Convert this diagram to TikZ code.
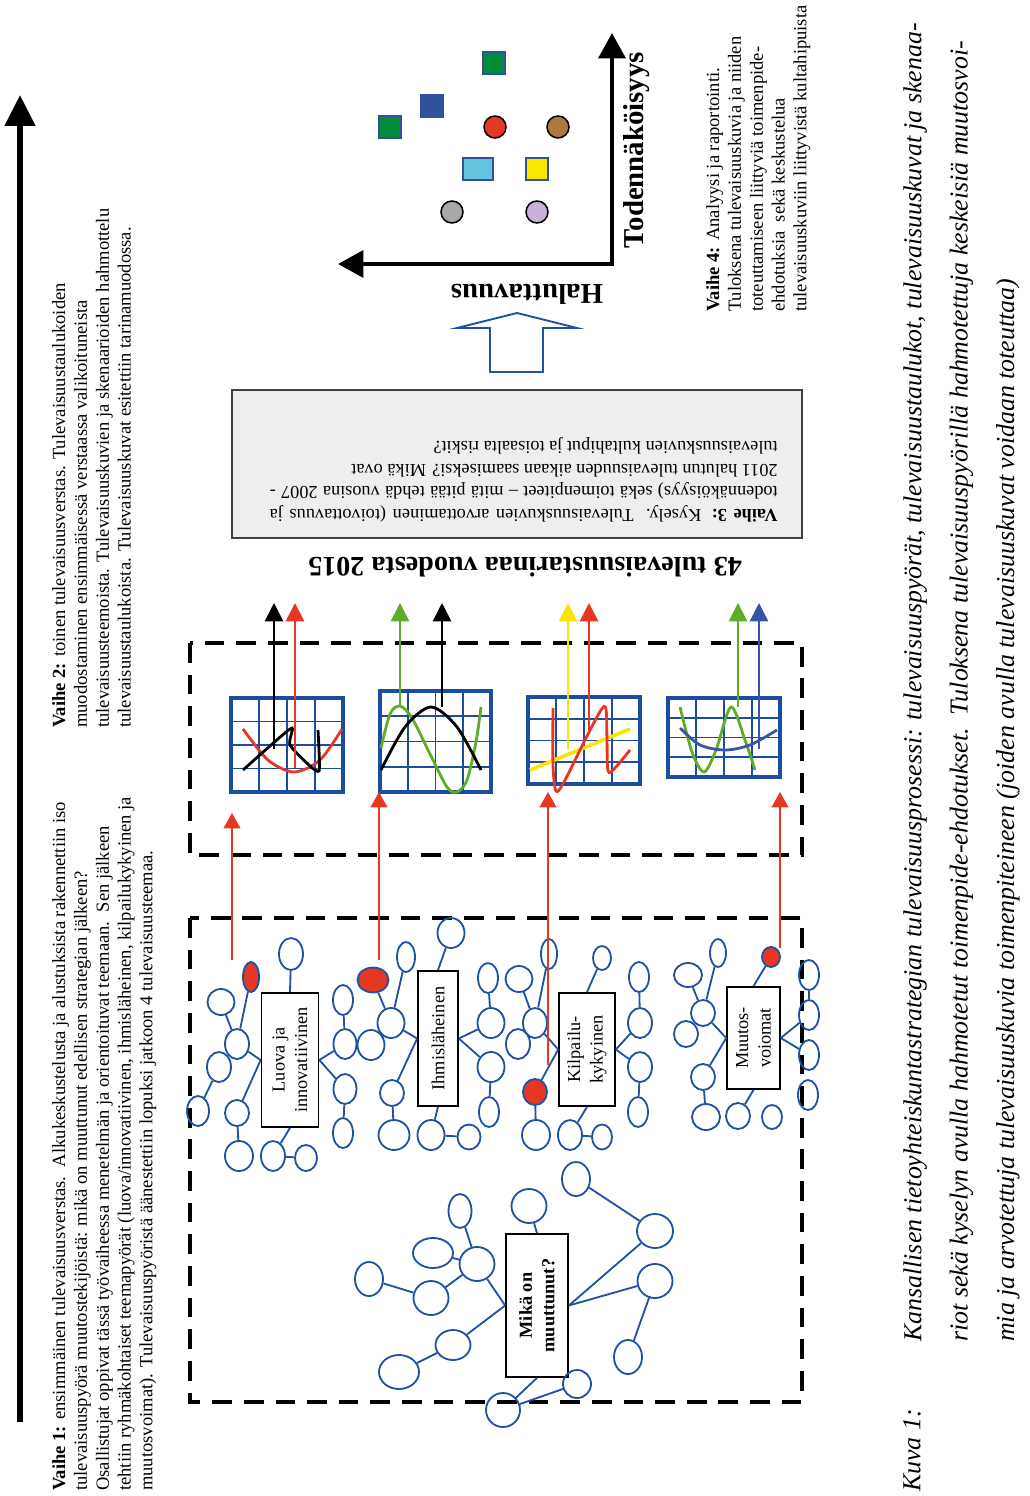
\documentclass[tikz,border=0pt]{standalone}
\usepackage{fontspec}
\setmainfont{Liberation Serif}
\usetikzlibrary{shapes.geometric, arrows.meta}
\definecolor{wheelblue}{RGB}{31, 82, 163}
\definecolor{chartblue}{RGB}{26, 76, 160}
\definecolor{hotred}{RGB}{230, 55, 35}
\definecolor{trendgreen}{RGB}{95, 172, 40}
\definecolor{trendyellow}{RGB}{248, 230, 0}
\definecolor{trendblue}{RGB}{55, 85, 165}
\definecolor{markgreen}{RGB}{0, 140, 60}
\definecolor{markblue}{RGB}{50, 80, 160}
\definecolor{markcyan}{RGB}{100, 195, 220}
\definecolor{markbrown}{RGB}{170, 122, 66}
\definecolor{markgrey}{RGB}{168, 168, 168}
\definecolor{marklilac}{RGB}{200, 176, 214}
\definecolor{surveygrey}{RGB}{238, 238, 238}
\begin{document}
\begin{tikzpicture}[
        x=0.025cm, y=-0.025cm,
        wheel/.style 2 args={ellipse, draw=wheelblue, line width=1.3pt, inner sep=0pt, minimum width=#1*0.025cm, minimum height=#2*0.025cm},
        hotwheel/.style 2 args={wheel={#1}{#2}, fill=hotred},
        spoke/.style={draw=wheelblue, line width=1.3pt},
        theme/.style={rectangle, draw=black, line width=1.2pt, fill=white, rotate=90, align=center, inner sep=1pt, font=\fontsize{13}{16}\selectfont},
        phase/.style={draw=black, line width=3.5pt, dash pattern=on 14pt off 8.5pt},
        chart/.style={rectangle, draw=chartblue, line width=3pt, inner sep=0pt},
        chartgrid/.style={draw=chartblue, line width=1.2pt},
        trend/.style={line width=2pt},
        flow/.style={-{Triangle[width=13pt, length=13pt]}, line width=1.2pt},
        feed/.style={-{Triangle[width=12pt, length=11pt]}, line width=0.9pt, color=hotred},
        stagetext/.style={rotate=90, anchor=north west, align=left, inner sep=0pt, font=\fontsize{13.2}{15.5}\selectfont},
        caption/.style={rotate=90, anchor=north west, align=left, inner sep=0pt, font=\itshape\fontsize{18.4}{33}\selectfont},
        surveybox/.style={rectangle, draw=black!75, line width=1pt, fill=surveygrey, minimum width=570*0.025cm, minimum height=148*0.025cm},
        marksq/.style={rectangle, draw=markblue, line width=1.2pt, minimum size=22*0.025cm, inner sep=0pt},
        markdot/.style={circle, draw=black, line width=1.1pt, minimum size=22*0.025cm, inner sep=0pt},
        axislabel/.style={font=\bfseries\fontsize{20.5}{22}\selectfont, inner sep=0pt}
    ]
    \useasboundingbox (0,0) rectangle (1030,1496);

    % Time line on the left
    \coordinate (timebase) at (20,1422);
    \coordinate (timetop) at (20,95);
    \draw[-{Triangle[width=21pt, length=22pt]}, line width=4.3pt] (timebase) -- (timetop);

    % Stage texts
    \node[stagetext] (stage1) at (52,1491) {\textbf{Vaihe 1:} ensimmäinen tulevaisuusverstas.\ \ Alkukeskustelusta ja alustuksista rakennettiin iso\\ tulevaisuuspyörä muutostekijöistä: mikä on muuttunut edellisen strategian jälkeen?\\ Osallistujat oppivat tässä työvaiheessa menetelmän ja orientoituvat teemaan.\ \ Sen jälkeen\\ tehtiin ryhmäkohtaiset teemapyörät (luova/innovatiivinen, ihmisläheinen, kilpailukykyinen ja\\ muutosvoimat). Tulevaisuuspyöristä äänestettiin lopuksi jatkoon 4 tulevaisuusteemaa.};
    \node[stagetext] (stage2) at (52,728) {\textbf{Vaihe 2:} toinen tulevaisuusverstas. Tulevaisuustaulukoiden\\ muodostaminen ensimmäisessä verstaassa valikoituneista\\ tulevaisuusteemoista. Tulevaisuuskuvien ja skenaarioiden hahmottelu\\ tulevaisuustaulukoista. Tulevaisuuskuvat esitettiin tarinamuodossa.};
    \node[stagetext] (stage4) at (706,312) {\textbf{Vaihe 4:} Analyysi ja raportointi.\\ Tuloksena tulevaisuuskuvia ja niiden\\ toteuttamiseen liittyviä toimenpide-\\ ehdotuksia\ \ sekä keskustelua\\ tulevaisuuskuviin liittyvistä kultahipuista};

    % Phase frames
    \draw[phase] (190,918) rectangle (802,1402);
    \draw[phase] (190,643) rectangle (802,855);

    % Theme boxes
    \node[theme, minimum width=134*0.025cm, minimum height=57*0.025cm] (luova) at (290,1060) {Luova ja\\ innovatiivinen};
    \node[theme, minimum width=135*0.025cm, minimum height=40*0.025cm] (ihmis) at (438,1038.5) {Ihmisläheinen};
    \node[theme, minimum width=113*0.025cm, minimum height=56*0.025cm] (kilpailu) at (587,1049.5) {Kilpailu-\\ kykyinen};
    \node[theme, minimum width=102*0.025cm, minimum height=53*0.025cm] (muutos) at (753.5,1038) {Muutos-\\ voiomat};
    \node[theme, minimum width=143*0.025cm, minimum height=62*0.025cm, font=\bfseries\fontsize{13}{16}\selectfont] (muuttunut) at (537,1305.5) {Mikä on\\ muuttunut?};

    % Wheel: luova
    \node[wheel={24}{32}] (lu1) at (291,954) {};
    \node[hotwheel={16}{30}] (lured) at (251,977) {};
    \node[wheel={27}{26}] (lu2) at (221,1002) {};
    \node[wheel={24}{30}] (lu3) at (237,1044) {};
    \node[wheel={24}{30}] (lu4) at (219,1067) {};
    \node[wheel={22}{30}] (lu5) at (198,1111) {};
    \node[wheel={24}{26}] (lu6) at (237,1113) {};
    \node[wheel={28}{30}] (lu7) at (239,1156) {};
    \node[wheel={24}{30}] (lu8) at (273,1156) {};
    \node[wheel={22}{26}] (lu9) at (306,1158) {};
    \node[wheel={20}{30}] (lu10) at (343,1000) {};
    \node[wheel={23}{30}] (lu11) at (345,1044) {};
    \node[wheel={23}{30}] (lu12) at (345,1089) {};
    \node[wheel={20}{30}] (lu13) at (343,1133) {};
    \draw[spoke] (lu1) -- (luova.east);
    \draw[spoke] (lu3) -- (lured);
    \draw[spoke] (lu3) -- (lu2);
    \draw[spoke] (lu3) -- (luova.north);
    \draw[spoke] (lu4) -- (lu5);
    \draw[spoke] (lu6) -- (luova.north);
    \draw[spoke] (lu6) -- (lu7);
    \draw[spoke] (lu8) -- (luova.west);
    \draw[spoke] (lu8) -- (lu9);
    \draw[spoke] (lu10) -- (lu11);
    \draw[spoke] (lu11) -- (luova.south);
    \draw[spoke] (lu12) -- (luova.south);
    \draw[spoke] (lu12) -- (lu13);

    % Wheel: ihmisläheinen
    \node[hotwheel={31}{25}] (ihred) at (373,980) {};
    \node[wheel={27}{30}] (ih1) at (391,1023) {};
    \node[wheel={27}{30}] (ih2) at (371,1045) {};
    \node[wheel={18}{30}] (ih3) at (406,957) {};
    \node[wheel={27}{30}] (ih4) at (451,933) {};
    \node[wheel={24}{26}] (ih5) at (392,1093) {};
    \node[wheel={31}{30}] (ih6) at (394,1135) {};
    \node[wheel={27}{30}] (ih7) at (431,1135) {};
    \node[wheel={23}{25}] (ih8) at (469,1137) {};
    \node[wheel={20}{30}] (ih9) at (488,978) {};
    \node[wheel={27}{30}] (ih10) at (491,1023) {};
    \node[wheel={27}{30}] (ih11) at (491,1067) {};
    \node[wheel={20}{30}] (ih12) at (489,1112) {};
    \draw[spoke] (ihred) -- (ih1);
    \draw[spoke] (ih1) -- (ihmis.north);
    \draw[spoke] (ih3) -- (ih1);
    \draw[spoke] (ih4) -- (ihmis.east);
    \draw[spoke] (ih5) -- (ihmis.north);
    \draw[spoke] (ih5) -- (ih6);
    \draw[spoke] (ih7) -- (ihmis.west);
    \draw[spoke] (ih7) -- (ih8);
    \draw[spoke] (ih9) -- (ih10);
    \draw[spoke] (ih10) -- (ihmis.south);
    \draw[spoke] (ih11) -- (ihmis.south);
    \draw[spoke] (ih11) -- (ih12);

    % Wheel: kilpailukykyinen
    \node[wheel={16}{30}] (ki1) at (549,954) {};
    \node[wheel={27}{26}] (ki2) at (519,979) {};
    \node[wheel={24}{30}] (ki3) at (535,1023) {};
    \node[wheel={24}{30}] (ki4) at (518,1044) {};
    \node[hotwheel={24}{26}] (kired) at (535,1092) {};
    \node[wheel={28}{30}] (ki5) at (536,1135) {};
    \node[wheel={24}{30}] (ki6) at (570,1135) {};
    \node[wheel={20}{25}] (ki7) at (602,1137) {};
    \node[wheel={18}{24}] (ki8) at (602,958) {};
    \node[wheel={20}{30}] (ki9) at (639,977) {};
    \node[wheel={24}{30}] (ki10) at (640,1023) {};
    \node[wheel={24}{30}] (ki11) at (640,1067) {};
    \node[wheel={20}{30}] (ki12) at (638,1112) {};
    \draw[spoke] (ki3) -- (kilpailu.north);
    \draw[spoke] (ki3) -- (ki1);
    \draw[spoke] (ki3) -- (ki2);
    \draw[spoke] (kired) -- (kilpailu.north);
    \draw[spoke] (kired) -- (ki5);
    \draw[spoke] (ki6) -- (kilpailu.west);
    \draw[spoke] (ki6) -- (ki7);
    \draw[spoke] (ki8) -- (kilpailu.east);
    \draw[spoke] (ki9) -- (ki10);
    \draw[spoke] (ki10) -- (kilpailu.south);
    \draw[spoke] (ki11) -- (kilpailu.south);
    \draw[spoke] (ki11) -- (ki12);

    % Wheel: muutosvoimat
    \node[hotwheel={18}{20}] (mured) at (771,957) {};
    \node[wheel={16}{28}] (mu1) at (718,953) {};
    \node[wheel={28}{24}] (mu2) at (688,975) {};
    \node[wheel={24}{26}] (mu3) at (703,1013) {};
    \node[wheel={24}{26}] (mu4) at (686,1034) {};
    \node[wheel={24}{26}] (mu5) at (703,1077) {};
    \node[wheel={28}{26}] (mu6) at (706,1117) {};
    \node[wheel={24}{26}] (mu7) at (738,1116) {};
    \node[wheel={20}{24}] (mu8) at (772,1117) {};
    \node[wheel={20}{30}] (mu9) at (809,975) {};
    \node[wheel={20}{30}] (mu10) at (809,1015) {};
    \node[wheel={20}{30}] (mu11) at (809,1055) {};
    \node[wheel={20}{30}] (mu12) at (808,1095) {};
    \draw[spoke] (mured) -- (muutos.east);
    \draw[spoke] (mu3) -- (mu1);
    \draw[spoke] (mu3) -- (mu2);
    \draw[spoke] (mu3) -- (muutos.north);
    \draw[spoke] (mu5) -- (muutos.north);
    \draw[spoke] (mu5) -- (mu6);
    \draw[spoke] (mu7) -- (muutos.west);
    \draw[spoke] (mu9) -- (mu10);
    \draw[spoke] (mu10) -- (muutos.south);
    \draw[spoke] (mu11) -- (muutos.south);

    % Wheel: mikä on muuttunut?
    \node[wheel={23}{34}] (mi1) at (460,1211) {};
    \node[wheel={35}{34}] (mi2) at (529,1206) {};
    \node[wheel={28}{34}] (mi3) at (576,1179) {};
    \node[wheel={36}{34}] (mi4) at (655,1231) {};
    \node[wheel={35}{34}] (mi5) at (655,1281) {};
    \node[wheel={28}{34}] (mi6) at (628,1357) {};
    \node[wheel={35}{34}] (mi7) at (477,1264) {};
    \node[wheel={40}{30}] (mi8) at (433,1253) {};
    \node[wheel={35}{34}] (mi9) at (431,1298) {};
    \node[wheel={28}{34}] (mi10) at (369,1279) {};
    \node[wheel={35}{30}] (mi11) at (453,1345) {};
    \node[wheel={40}{34}] (mi12) at (399,1372) {};
    \node[wheel={28}{28}] (mi13) at (577,1384) {};
    \node[wheel={34}{34}] (mi14) at (503,1410) {};
    \draw[spoke] (mi2) -- (muuttunut.east);
    \draw[spoke] (mi3) -- (mi4);
    \draw[spoke] (mi4) -- (muuttunut.south);
    \draw[spoke] (mi5) -- (muuttunut.south);
    \draw[spoke] (mi6) -- (mi5);
    \draw[spoke] (mi7) -- (mi1);
    \draw[spoke] (mi7) -- (muuttunut.north);
    \draw[spoke] (mi8) -- (mi7);
    \draw[spoke] (mi9) -- (mi7);
    \draw[spoke] (mi10) -- (mi9);
    \draw[spoke] (mi11) -- (muuttunut.north);
    \draw[spoke] (mi12) -- (mi11);
    \draw[spoke] (mi14) -- (muuttunut.west);
    \draw[spoke] (mi13) -- (mi14);

    % Future tables
    \node[chart, minimum width=112*0.025cm, minimum height=94*0.025cm] (chart1) at (287,745) {};
    \node[chart, minimum width=111*0.025cm, minimum height=101*0.025cm] (chart2) at (435.5,741.5) {};
    \node[chart, minimum width=112*0.025cm, minimum height=87*0.025cm] (chart3) at (584,740.5) {};
    \node[chart, minimum width=112*0.025cm, minimum height=79*0.025cm] (chart4) at (724,737.5) {};
    \foreach \f in {0.25,0.5,0.75} {
        \draw[chartgrid] ({231+112*\f},698) -- ({231+112*\f},792);
        \draw[chartgrid] (231,{698+94*\f}) -- (343,{698+94*\f});
        \draw[chartgrid] ({380+111*\f},691) -- ({380+111*\f},792);
        \draw[chartgrid] (380,{691+101*\f}) -- (491,{691+101*\f});
        \draw[chartgrid] ({528+112*\f},697) -- ({528+112*\f},784);
        \draw[chartgrid] (528,{697+87*\f}) -- (640,{697+87*\f});
        \draw[chartgrid] ({668+112*\f},698) -- ({668+112*\f},777);
        \draw[chartgrid] (668,{698+79*\f}) -- (780,{698+79*\f});
    }
    \draw[trend, hotred] plot[smooth] coordinates {(243,729) (268,760) (294,772) (320,760) (342,729)};
    \draw[trend, black] plot[smooth, tension=0.4] coordinates {(243,770) (270,746) (292,728) (290,745) (310,766) (319,771) (319,750) (318,730)};
    \draw[trend, trendgreen] plot[smooth] coordinates {(381,748) (390,714) (400,706) (412,718) (430,754) (447,787) (457,792) (467,780) (476,742) (481,707)};
    \draw[trend, black] plot[smooth] coordinates {(381,770) (405,727) (431,707) (457,727) (481,770)};
    \draw[trend, trendyellow, line width=2.6pt] (530,770) -- (630,729);
    \draw[trend, hotred] plot[smooth, tension=0.5] coordinates {(553,708) (553,765) (556,791) (564,782) (586,738) (601,710) (606,709) (607,740) (608,771) (615,768) (630,750)};
    \draw[trend, trendgreen] plot[smooth] coordinates {(680,707) (692,752) (704,772) (716,750) (731,707) (745,740) (755,770)};
    \draw[trend, trendblue] plot[smooth] coordinates {(680,728) (700,745) (725,750) (750,745) (777,730)};

    % Flows out of the tables
    \coordinate (t1a) at (274,749); \coordinate (t1b) at (295,768);
    \coordinate (t2a) at (400,706); \coordinate (t2b) at (442,707);
    \coordinate (t3a) at (568,749); \coordinate (t3b) at (589,730);
    \coordinate (t4a) at (738,707); \coordinate (t4b) at (759,749);
    \coordinate (o1a) at (274,603); \coordinate (o1b) at (295,603);
    \coordinate (o2a) at (400,603); \coordinate (o2b) at (442,603);
    \coordinate (o3a) at (568,603); \coordinate (o3b) at (589,603);
    \coordinate (o4a) at (738,603); \coordinate (o4b) at (759,603);
    \draw[flow, black] (t1a) -- (o1a);
    \draw[flow, hotred] (t1b) -- (o1b);
    \draw[flow, trendgreen] (t2a) -- (o2a);
    \draw[flow, black] (t2b) -- (o2b);
    \draw[flow, trendyellow] (t3a) -- (o3a);
    \draw[flow, hotred] (t3b) -- (o3b);
    \draw[flow, trendgreen] (t4a) -- (o4a);
    \draw[flow, trendblue] (t4b) -- (o4b);

    % Flows from the wheels into the tables
    \coordinate (f1) at (232,960); \coordinate (g1) at (232,813);
    \coordinate (f2) at (379,960); \coordinate (g2) at (379,792);
    \coordinate (f3) at (548,1065); \coordinate (g3) at (548,792);
    \coordinate (f4) at (780,948); \coordinate (g4) at (780,792);
    \draw[feed] (f1) -- (g1);
    \draw[feed] (f2) -- (g2);
    \draw[feed] (f3) -- (g3);
    \draw[feed] (f4) -- (g4);

    % Stories and survey
    \node[rotate=180, font=\bfseries\fontsize{20}{22}\selectfont, inner sep=0pt] (stories) at (525,567) {43 tulevaisuustarinaa vuodesta 2015};
    \node[surveybox] (survey) at (517,464) {};
    \node[rotate=180, anchor=north west, inner sep=0pt, text width=508*0.025cm, align=justify, font=\fontsize{13}{16}\selectfont] (surveytext) at (778,522) {\textbf{Vaihe 3:} Kysely. Tulevaisuuskuvien arvottaminen (toivottavuus ja\linebreak todennäköisyys) sekä toimenpiteet -- mitä pitää tehdä vuosina 2007 -\linebreak 2011 halutun tulevaisuuden aikaan saamiseksi? Mikä ovat\newline tulevaisuuskuvien kultahiput ja toisaalta riskit?};

    % Hollow arrow to the result map
    \draw[draw=wheelblue, line width=1.3pt, fill=white] (490,372) -- (543,372) -- (543,328) -- (577,328) -- (517,313) -- (457,328) -- (490,328) -- cycle;

    % Result map
    \coordinate (origin) at (612,264);
    \coordinate (ytip) at (612,33);
    \coordinate (xtip) at (338,264);
    \draw[{Triangle[width=19pt, length=18pt]}-{Triangle[width=19pt, length=18pt]}, line width=3pt, line join=miter] (xtip) -- (origin) -- (ytip);
    \node[axislabel, rotate=90] (probability) at (637,150) {Todennäköisyys};
    \node[axislabel, rotate=180] (desirability) at (527,294) {Haluttavuus};
    \node[marksq, fill=markgreen] (sq1) at (494,63) {};
    \node[marksq, fill=markblue] (sq2) at (432,106) {};
    \node[marksq, fill=markgreen] (sq3) at (390,127) {};
    \node[markdot, fill=hotred] (dot1) at (495,127) {};
    \node[markdot, fill=markbrown] (dot2) at (558,127) {};
    \node[marksq, fill=markcyan, minimum width=30*0.025cm] (sq4) at (478,169) {};
    \node[marksq, fill=trendyellow] (sq5) at (537,169) {};
    \node[markdot, fill=markgrey] (dot3) at (452,212) {};
    \node[markdot, fill=marklilac] (dot4) at (537,212) {};

    % Caption
    \node[caption] (kuva) at (903,1492) {Kuva 1:};
    \node[caption] (captiontext) at (903,1342) {Kansallisen tietoyhteiskuntastrategian tulevaisuusprosessi: tulevaisuuspyörät, tulevaisuustaulukot, tulevaisuuskuvat ja skenaa-\\ riot sekä kyselyn avulla hahmotetut toimenpide-ehdotukset.\ \ Tuloksena tulevaisuuspyörillä hahmotettuja keskeisiä muutosvoi-\\ mia ja arvotettuja tulevaisuuskuvia toimenpiteineen (joiden avulla tulevaisuuskuvat voidaan toteuttaa)};
\end{tikzpicture}
\end{document}
